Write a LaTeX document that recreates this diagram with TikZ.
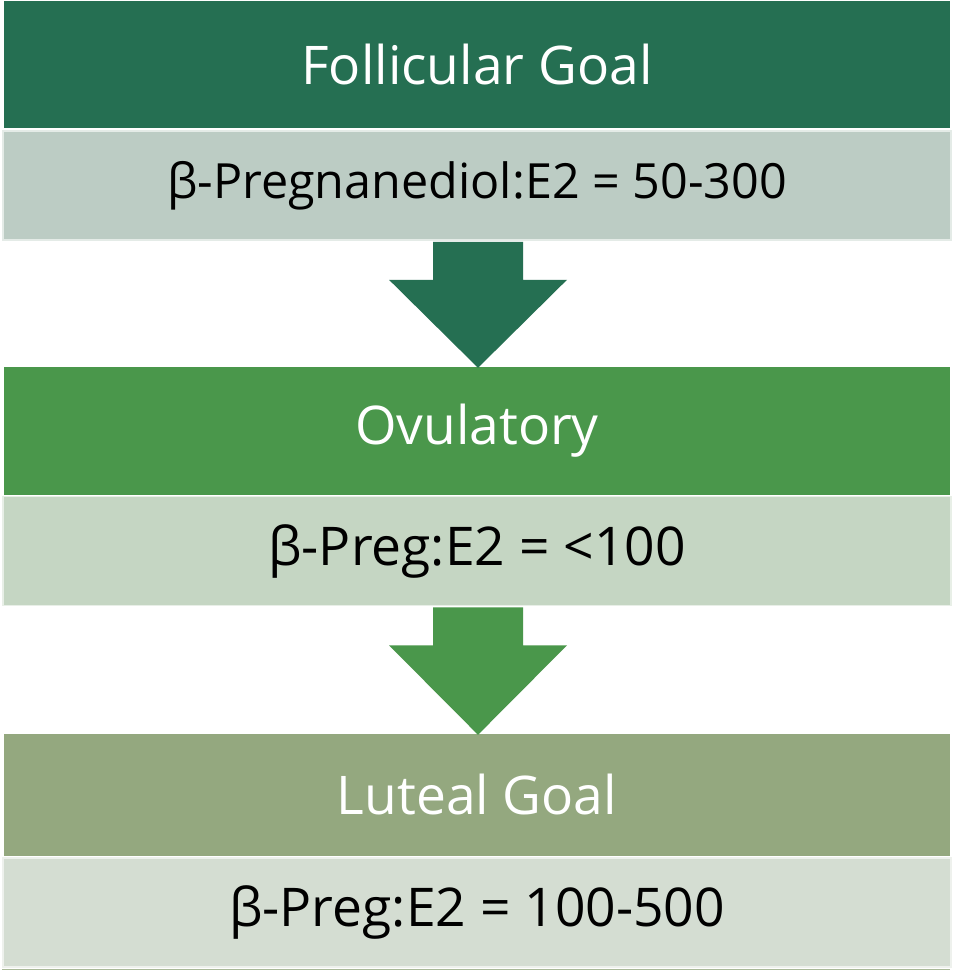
\documentclass[tikz,border=0pt]{standalone}
\usepackage{fontspec}
\setmainfont{Open Sans}
\usetikzlibrary{calc}

\definecolor{follhead}{HTML}{256F52}
\definecolor{follsub}{HTML}{BCCCC4}
\definecolor{ovuhead}{HTML}{4A974B}
\definecolor{ovusub}{HTML}{C5D6C3}
\definecolor{lutehead}{HTML}{94A87F}
\definecolor{lutesub}{HTML}{D4DDD2}

\tikzset{
  headbox/.style={rectangle, inner sep=0pt, minimum width=946pt,
    text=white, font=\fontsize{53.3}{58}\selectfont},
  subbox/.style={rectangle, inner sep=0pt, minimum width=948pt,
    minimum height=109pt, line width=1.6pt, text=black,
    font=\fontsize{53.4}{58}\selectfont},
}

% block arrow pointing down from #1 (top middle) to #2 (tip)
\newcommand{\blockarrow}[3]{%
  \fill[#3] ($(#1)+(-45,0)$) -- ($(#1)+(45,0)$) -- ($(#1)+(45,38)$)
    -- ($(#1)+(89,38)$) -- (#2) -- ($(#1)+(-89,38)$) -- ($(#1)+(-45,38)$) -- cycle;}

\begin{document}
\begin{tikzpicture}[x=1pt,y=-1pt]
\useasboundingbox[fill=white] (0,0) rectangle (954,973);

% Follicular phase
\node[headbox, fill=follhead, minimum height=127pt] (h1) at (477,64.5) {Follicular Goal};
\node[subbox, fill=follsub, draw=follsub!40!white, font=\fontsize{48.5}{52}\selectfont] (s1) at (477,185.5) {β-Pregnanediol:E2 = 50-300};

% Ovulatory phase
\node[headbox, fill=ovuhead, minimum height=128pt] (h2) at (477,431) {Ovulatory};
\node[subbox, fill=ovusub, draw=ovusub!40!white] (s2) at (477,551) {β-Preg:E2 = <100};

% Luteal phase
\node[headbox, fill=lutehead, minimum height=122pt] (h3) at (477,795) {Luteal Goal};
\node[subbox, fill=lutesub, draw=lutesub!40!white] (s3) at (477,912.5) {β-Preg:E2 = 100-500};
\draw[lutehead!80!white, line width=1.5pt] ($(s3.south west)+(0,1.5)$) -- ($(s3.south east)+(-2,1.5)$);

% Arrows between phases
\path (s1.south) ++(1,1) coordinate (a1top);
\path (h2.north) ++(1,1) coordinate (a1tip);
\blockarrow{a1top}{a1tip}{follhead}
\path (s2.south) ++(1,1) coordinate (a2top);
\path (h3.north) ++(1,1) coordinate (a2tip);
\blockarrow{a2top}{a2tip}{ovuhead}
\end{tikzpicture}
\end{document}
